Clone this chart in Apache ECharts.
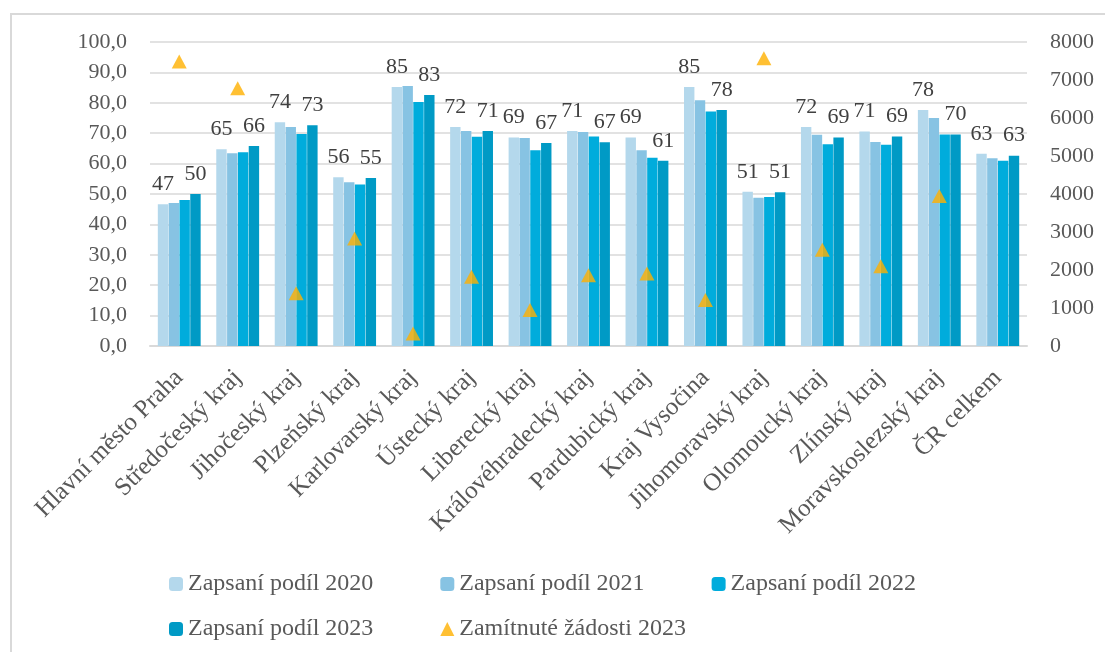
<!DOCTYPE html>
<html lang="cs">
<head>
<meta charset="UTF-8">
<title>Zapsaní podíl a zamítnuté žádosti</title>
<script src="https://cdn.jsdelivr.net/npm/echarts@6/dist/echarts.min.js"></script>
<style>
  html, body { margin: 0; padding: 0; background: #fff; }
</style>
</head>
<body>
<div id="main" style="width:1105px;height:652px;"></div>
<script>
// kraje
var kraje = ['Hlavní město Praha', 'Středočeský kraj', 'Jihočeský kraj', 'Plzeňský kraj',
  'Karlovarský kraj', 'Ústecký kraj', 'Liberecký kraj', 'Královéhradecký kraj',
  'Pardubický kraj', 'Kraj Vysočina', 'Jihomoravský kraj', 'Olomoucký kraj',
  'Zlínský kraj', 'Moravskoslezský kraj', 'ČR celkem'];

// zapsaní podíl (%)
var podil2020 = [46.6, 64.7, 73.6, 55.5, 85.2, 72.0, 68.6, 70.7, 68.6, 85.2, 50.7, 72.0, 70.6, 77.6, 63.2];
var podil2021 = [47.0, 63.4, 72.0, 53.9, 85.5, 70.7, 68.4, 70.4, 64.4, 80.8, 48.8, 69.5, 67.1, 75.0, 61.8];
var podil2022 = [48.0, 63.7, 69.7, 53.1, 80.3, 68.8, 64.4, 68.9, 61.9, 77.1, 49.0, 66.4, 66.2, 69.6, 60.9];
var podil2023 = [50.0, 65.8, 72.6, 55.3, 82.6, 70.7, 66.8, 67.0, 60.9, 77.6, 50.6, 68.6, 68.9, 69.6, 62.6];

// zamítnuté žádosti 2023 (pravá osa)
var zamitnute2023 = [7490, 6780, 1390, 2830, 330, 1820, 950, 1860, 1910, 1210, 7570, 2530, 2100, 3950, null];

var font = 'Liberation Serif';
var textColor = '#595959';

var myChart = echarts.init(document.getElementById('main'));

var labelTop = {
  show: true,
  position: 'top',
  distance: 9,
  fontFamily: font,
  fontSize: 22,
  color: '#404040',
  formatter: function (p) { return Math.round(p.value); }
};

var legendText = { fontFamily: font, fontSize: 24, color: textColor };

var option = {
  animation: false,
  graphic: [{
    type: 'rect',
    shape: { x: 11, y: 14, width: 1200, height: 800 },
    style: { fill: 'none', stroke: '#d9d9d9', lineWidth: 2 },
    silent: true
  }],
  grid: { left: 150, right: 78, top: 42, bottom: 306 },
  legend: [{
    data: ['Zapsaní podíl 2020', 'Zapsaní podíl 2021', 'Zapsaní podíl 2022'],
    left: 164, top: 567,
    itemWidth: 14, itemHeight: 14, itemGap: 67,
    textStyle: legendText
  }, {
    data: ['Zapsaní podíl 2023', 'Zamítnuté žádosti 2023'],
    left: 164, top: 612,
    itemWidth: 14, itemHeight: 14, itemGap: 67,
    textStyle: legendText
  }],
  xAxis: {
    type: 'category',
    data: kraje,
    axisLine: { lineStyle: { color: '#d9d9d9', width: 2 } },
    axisTick: { show: false },
    axisLabel: {
      interval: 0,
      rotate: 45,
      margin: 28,
      fontFamily: font,
      fontSize: 25,
      color: textColor
    }
  },
  yAxis: [{
    type: 'value',
    min: 0, max: 100, interval: 10,
    axisLine: { show: false },
    axisTick: { show: false },
    splitLine: { lineStyle: { color: '#d9d9d9', width: 1.5 } },
    axisLabel: {
      margin: 23,
      fontFamily: font,
      fontSize: 22,
      color: textColor,
      formatter: function (v) { return v.toFixed(1).replace('.', ','); }
    }
  }, {
    type: 'value',
    min: 0, max: 8000, interval: 1000,
    axisLine: { show: false },
    axisTick: { show: false },
    splitLine: { show: false },
    axisLabel: {
      margin: 23,
      fontFamily: font,
      fontSize: 22,
      color: textColor,
      formatter: function (v) { return String(v); }
    }
  }],
  series: [{
    name: 'Zapsaní podíl 2020',
    type: 'bar',
    data: podil2020,
    barWidth: 10.4,
    barGap: '4%',
    itemStyle: { color: '#b4d8ec' },
    label: labelTop
  }, {
    name: 'Zapsaní podíl 2021',
    type: 'bar',
    data: podil2021,
    barWidth: 10.4,
    barGap: '4%',
    itemStyle: { color: '#87c3e3' }
  }, {
    name: 'Zapsaní podíl 2022',
    type: 'bar',
    data: podil2022,
    barWidth: 10.4,
    barGap: '4%',
    itemStyle: { color: '#00acdc' }
  }, {
    name: 'Zapsaní podíl 2023',
    type: 'bar',
    data: podil2023,
    barWidth: 10.4,
    barGap: '4%',
    itemStyle: { color: '#009ac5' },
    label: labelTop
  }, {
    name: 'Zamítnuté žádosti 2023',
    type: 'scatter',
    yAxisIndex: 1,
    data: zamitnute2023,
    symbol: 'triangle',
    symbolSize: [15, 14],
    itemStyle: { color: '#ffb000' },
    z: 5
  }]
};

myChart.setOption(option);
</script>
</body>
</html>
